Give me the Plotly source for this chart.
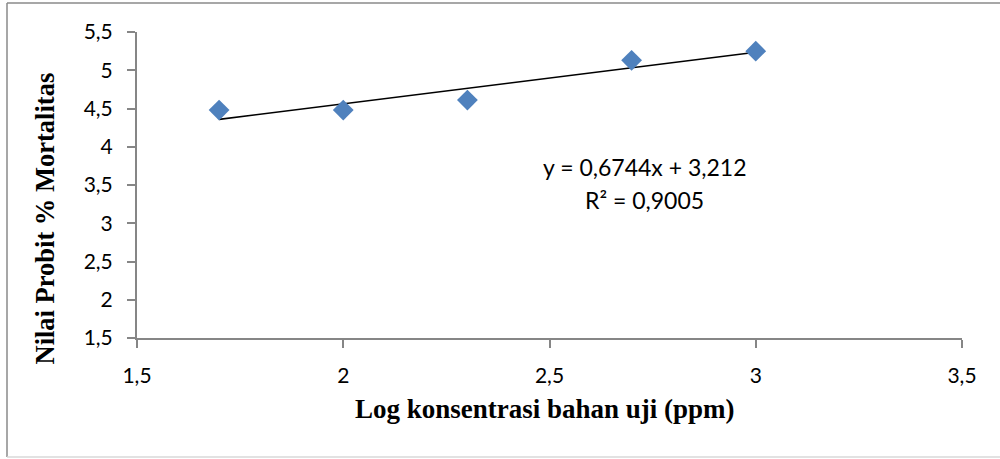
import plotly.graph_objects as go

# Data
log_conc = [1.699, 2.0, 2.301, 2.699, 3.0]
probit = [4.48, 4.48, 4.61, 5.13, 5.25]
slope = 0.6744
intercept = 3.212
eq_label = "y = 0,6744x + 3,212"
r2_label = "R² = 0,9005"
x_title = "Log konsentrasi bahan uji (ppm)"
y_title = "Nilai Probit % Mortalitas"
x_ticks = [1.5, 2, 2.5, 3, 3.5]
x_ticklabels = ["1,5", "2", "2,5", "3", "3,5"]
y_ticks = [1.5, 2, 2.5, 3, 3.5, 4, 4.5, 5, 5.5]
y_ticklabels = ["1,5", "2", "2,5", "3", "3,5", "4", "4,5", "5", "5,5"]

W, H = 1000, 459
L, R, T, B = 137, 38, 32, 121
pw, ph = W - L - R, H - T - B

def px(xp):
    return (xp - L) / pw

def py(yp):
    return (H - B - yp) / ph

trend_x = [min(log_conc), max(log_conc)]
trend_y = [slope * v + intercept for v in trend_x]

fig = go.Figure()
fig.add_trace(go.Scatter(
    x=trend_x, y=trend_y, mode="lines",
    line=dict(color="black", width=1.6), showlegend=False, hoverinfo="skip"))
fig.add_trace(go.Scatter(
    x=log_conc, y=probit, mode="markers",
    marker=dict(symbol="diamond", size=16, color="#4F81BD"),
    showlegend=False))

tickfont = dict(family="Lato, Open Sans, sans-serif", size=21, color="black")
serif = "Liberation Serif, Times New Roman, serif"

fig.update_xaxes(
    range=[1.5, 3.5], tickvals=x_ticks, ticktext=x_ticklabels,
    showgrid=False, zeroline=False, showline=True, linecolor="#868686", linewidth=2,
    ticks="outside", ticklen=8, tickcolor="#868686", tickwidth=2,
    tickfont=tickfont, ticklabelstandoff=10)
fig.update_yaxes(
    range=[1.5, 5.5], tickvals=y_ticks, ticktext=y_ticklabels,
    showgrid=False, zeroline=False, showline=True, linecolor="#868686", linewidth=2,
    ticks="outside", ticklen=8, tickcolor="#868686", tickwidth=2,
    tickfont=tickfont, ticklabelstandoff=10)

fig.add_annotation(x=px(545), y=py(409), xref="paper", yref="paper", text="<b>" + x_title + "</b>",
                   showarrow=False, font=dict(family=serif, size=27, color="black"),
                   xanchor="center", yanchor="middle")
fig.add_annotation(x=px(44), y=py(218.5), xref="paper", yref="paper", text="<b>" + y_title + "</b>",
                   showarrow=False, font=dict(family=serif, size=26.5, color="black"),
                   textangle=-90, xanchor="center", yanchor="middle")

annfont = dict(family="Lato, Open Sans, sans-serif", size=23, color="black")
fig.add_annotation(x=px(644), y=py(167), xref="paper", yref="paper", text=eq_label,
                   showarrow=False, font=annfont, xanchor="center", yanchor="middle")
fig.add_annotation(x=px(644), y=py(200), xref="paper", yref="paper", text=r2_label,
                   showarrow=False, font=annfont, xanchor="center", yanchor="middle")

# outer chart border
fig.add_shape(type="line", xref="paper", yref="paper", x0=px(7), x1=px(1000), y0=py(3), y1=py(3),
              line=dict(color="#8a8a8a", width=1.5))
fig.add_shape(type="line", xref="paper", yref="paper", x0=px(7), x1=px(7), y0=py(3), y1=py(457),
              line=dict(color="#8a8a8a", width=1.5))
fig.add_shape(type="line", xref="paper", yref="paper", x0=px(7), x1=px(1000), y0=py(457), y1=py(457),
              line=dict(color="#d9d9d9", width=1.5))

fig.update_layout(
    width=W, height=H, margin=dict(l=L, r=R, t=T, b=B),
    paper_bgcolor="white", plot_bgcolor="white")

fig.write_html("out.html")
